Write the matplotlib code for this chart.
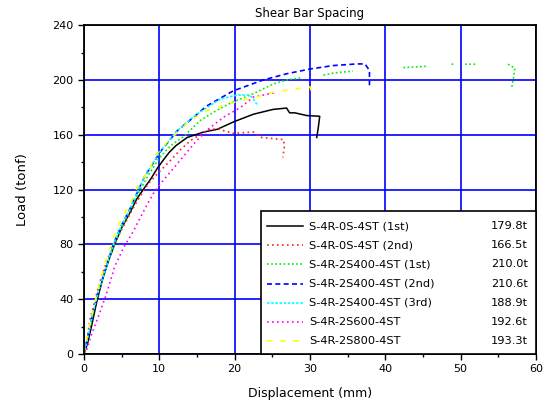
import numpy as np
import matplotlib
matplotlib.use("Agg")
import matplotlib.pyplot as plt
from matplotlib.lines import Line2D
from matplotlib.patches import Rectangle

# ── Data ─────────────────────────────────────────────────────────────────────

nan = np.nan

labels = [
    "S-4R-0S-4ST (1st)",
    "S-4R-0S-4ST (2nd)",
    "S-4R-2S400-4ST (1st)",
    "S-4R-2S400-4ST (2nd)",
    "S-4R-2S400-4ST (3rd)",
    "S-4R-2S600-4ST",
    "S-4R-2S800-4ST",
]
peaks = ["179.8t", "166.5t", "210.0t", "210.6t", "188.9t", "192.6t", "193.3t"]

x_1st = [0, 0.5, 1.0, 1.7, 2.5, 3.2, 4.0, 5.0, 6.0, 7.0, 8.0, 8.9, 9.8, 10.6,
         11.3, 12.2, 13.7, 15.9, 17.7, 19.9, 22.5, 25.1, 26.9, 27.3, 28.0,
         29.6, 31.3, 31.1, 30.9]
y_1st = [0, 8, 20, 38, 55, 67, 79, 92, 102, 113, 121, 128, 136, 142,
         147, 152, 158, 162, 164, 169.5, 175, 178.5, 179.5, 176, 176,
         174, 173.5, 165, 158]

x_2nd = [0, 0.4, 0.8, 1.5, 2.3, 3.2, 4.0, 5.5, 7.0, 8.5, 10.0, 11.1, 12.8,
         14.2, 16.4, 17.7, 18.5, 19.9, 22.5, 23.6, 26.5, 26.6, 26.4]
y_2nd = [0, 10, 25, 40, 56, 70, 80, 96, 111, 124, 133, 139, 149,
         156, 163.4, 164.5, 163, 161, 162, 158, 156.5, 151, 143.5]

x_400a = [0, 0.5, 1.2, 2.0, 3.0, 4.0, 5.5, 7.0, 8.5, 10.0, 11.5, 13.3, 15.5,
          17.7, 19.4, 22.5, 25.1, 26.9, 28.7, nan, 31.8, 33.1, 35.7, nan,
          42.4, 45.5, nan, 48.8, 49.3, nan, 50.6, 52.1, nan, 56.3, 57.2,
          57.0, 56.8]
y_400a = [0, 12, 30, 47, 64, 79, 98, 115, 130, 143, 152, 159, 170.7,
          178, 183, 190, 197, 200, 201.5, nan, 203.5, 205, 206.5, nan,
          209, 210, nan, 211.5, 211.5, nan, 211.5, 211.5, nan, 211.5, 208.5,
          201, 195]

x_400b = [0, 0.5, 1.2, 2.0, 3.0, 3.9, 5.0, 6.2, 8.0, 10.2, 12.4, 14.6, 16.3,
          19.8, 23.8, 26.9, 30.0, 33.1, 36.2, 37.3, 37.9, 37.9]
y_400b = [0, 12, 30, 47, 64, 80, 94, 107, 129, 148, 163, 173, 181,
          192, 200, 204.5, 208, 210.5, 211.7, 211.7, 207, 195]

x_400c = [0, 0.5, 1.2, 2.0, 3.0, 3.9, 5.0, 6.2, 8.0, 10.2, 12.4, 14.6, 16.8,
          18.1, 20.3, 22.0, 22.5, 23.1]
y_400c = [0, 12, 30, 47, 64, 80, 94, 107, 129, 148.5, 163, 173.5, 181.5,
          186, 189, 189, 186, 181]

x_600 = [0, 0.35, 1.0, 2.1, 3.0, 4.1, 5.3, 6.5, 8.0, 9.2, 10.2, 12.8, 15.0,
         16.8, 18.6, 20.8, 22.5, 25.1, 25.3]
y_600 = [0, 3, 14, 30, 44, 64, 78, 89, 105, 117, 124.5, 141.5, 156,
         165.5, 173, 180, 187.5, 190.5, 188]

x_800 = [0, 0.4, 1.0, 2.0, 3.0, 4.4, 5.5, 6.6, 7.0, 8.9, 9.2, 11.1, 11.9,
         14.0, 16.3, 19.8, 22.9, 25.1, 28.2, 30.0, 30.3]
y_800 = [0, 12, 27, 50, 70, 92, 104, 114.5, 121, 136.5, 143, 155, 159,
         170, 177.5, 183.5, 187.5, 191, 193.5, 195, 189.5]

series_x = [x_1st, x_2nd, x_400a, x_400b, x_400c, x_600, x_800]
series_y = [y_1st, y_2nd, y_400a, y_400b, y_400c, y_600, y_800]

# ── Styles ───────────────────────────────────────────────────────────────────

colors = ["black", "#ff2020", "#00ee00", "#0000ff", "#00ffff", "#ff00ff", "#ffff00"]
styles = ["-", (0, (1, 2)), (0, (1, 1.5)), (0, (3, 2)), (0, (1.5, 1)),
          (0, (1, 2)), (0, (3, 5))]
widths = [1.1, 1.2, 1.2, 1.2, 1.2, 1.2, 1.2]

plt.rcParams["font.family"] = "DejaVu Sans"

fig = plt.figure(figsize=(5.52, 4.09), dpi=100)
ax = fig.add_axes([0.152, 0.1345, 0.819, 0.804])

for xs, ys, c, ls, lw in zip(series_x, series_y, colors, styles, widths):
    ax.plot(xs, ys, color=c, linestyle=ls, linewidth=lw, zorder=3)

ax.set_xlim(0, 60)
ax.set_ylim(0, 240)
ax.set_xticks(np.arange(0, 61, 10))
ax.set_yticks(np.arange(0, 241, 40))
ax.set_xticks(np.arange(5, 60, 10), minor=True)
ax.set_yticks(np.arange(20, 240, 40), minor=True)
ax.tick_params(which="major", direction="out", length=4.5, width=1, labelsize=8,
               pad=3)
ax.tick_params(which="minor", direction="out", length=2.2, width=1)
ax.grid(True, which="major", color="#0000ff", linewidth=1.2, zorder=1)
ax.set_axisbelow(True)
for sp in ax.spines.values():
    sp.set_linewidth(1.3)
    sp.set_color("black")
    sp.set_zorder(5)

ax.set_title("Shear Bar Spacing", fontsize=8.5, pad=6)
ax.set_xlabel("Displacement (mm)", fontsize=9, labelpad=9)
ax.set_ylabel("Load (tonf)", fontsize=9.5, labelpad=17)

# ── Legend box (drawn as a table: sample, name, peak) ────────────────────────

ax.add_patch(Rectangle((0.392, 0.0), 0.608, 0.435, transform=ax.transAxes,
                       facecolor="white", edgecolor="black", linewidth=1.2,
                       zorder=6, clip_on=False))
row0, step = 0.389, 0.0584
for i, (lab, pk) in enumerate(zip(labels, peaks)):
    yy = row0 - i * step
    ax.add_line(Line2D([0.405, 0.484], [yy, yy], transform=ax.transAxes,
                       color=colors[i], linestyle=styles[i], linewidth=widths[i],
                       zorder=7))
    ax.text(0.498, yy, lab, transform=ax.transAxes, fontsize=8.2, va="center",
            ha="left", zorder=7)
    ax.text(0.982, yy, pk, transform=ax.transAxes, fontsize=8.2, va="center",
            ha="right", zorder=7)

fig.savefig("out.png", dpi=100)
